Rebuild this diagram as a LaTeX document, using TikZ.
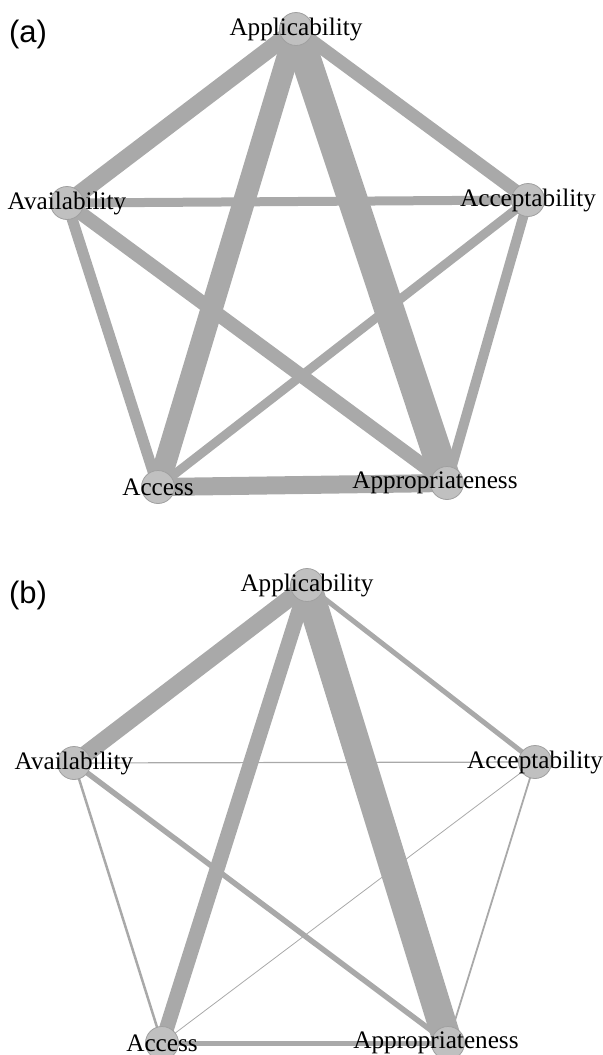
\documentclass[tikz,border=0pt]{standalone}
\usepackage{fontspec}
\setmainfont{Liberation Serif}
\newfontfamily\panelfont{Liberation Sans}
\usepackage{tikz}
\usetikzlibrary{backgrounds}
\definecolor{edgegray}{RGB}{169,169,169}
\definecolor{nodegray}{RGB}{192,192,192}
\definecolor{rimgray}{RGB}{160,160,160}

\begin{document}
\begin{tikzpicture}[x=0.5pt, y=-0.5pt,
    vtx/.style={circle, fill=nodegray, draw=rimgray, line width=0.4pt, minimum size=16.5pt, inner sep=0pt},
    lbl/.style={inner sep=0pt, font=\fontsize{12.6}{15}\selectfont},
    panel/.style={inner sep=0pt, font=\panelfont\fontsize{15.5}{18}\selectfont},
    edge/.style={draw=edgegray, line cap=butt}]
   \useasboundingbox (0,0) rectangle (602,1055);

   % (a)
   \node[panel] (tag-a) at (28,34) {(a)};
   \node[vtx] (appl-a) at (296,29) {};
   \node[vtx] (avail-a) at (67,203) {};
   \node[vtx] (accept-a) at (528,200) {};
   \node[vtx] (access-a) at (158,487) {};
   \node[vtx] (approp-a) at (447,483) {};
   \begin{pgfonlayer}{background}
    \draw[edge, line width=15pt] (appl-a.center) -- (approp-a.center);
    \draw[edge, line width=11pt] (appl-a.center) -- (access-a.center);
    \draw[edge, line width=8.5pt] (appl-a.center) -- (avail-a.center);
    \draw[edge, line width=6.5pt] (appl-a.center) -- (accept-a.center);
    \draw[edge, line width=9pt] (access-a.center) -- (approp-a.center);
    \draw[edge, line width=7pt] (avail-a.center) -- (approp-a.center);
    \draw[edge, line width=5.5pt] (avail-a.center) -- (access-a.center);
    \draw[edge, line width=5pt] (accept-a.center) -- (approp-a.center);
    \draw[edge, line width=4.5pt] (accept-a.center) -- (access-a.center);
    \draw[edge, line width=4.5pt] (avail-a.center) -- (accept-a.center);
   \end{pgfonlayer}
   \node[lbl] (appl-a-t) at (appl-a) {Applicability};
   \node[lbl] (avail-a-t) at (avail-a) {Availability};
   \node[lbl] (accept-a-t) at (accept-a) {Acceptability};
   \node[lbl] (access-a-t) at (access-a) {Access};
   \node[lbl] (approp-a-t) at ([xshift=-6]approp-a) {Appropriateness};

   % (b)
   \node[panel] (tag-b) at (28,595) {(b)};
   \node[vtx] (appl-b) at (307,585) {};
   \node[vtx] (avail-b) at (74,763) {};
   \node[vtx] (accept-b) at (535,762) {};
   \node[vtx] (access-b) at (162,1043) {};
   \node[vtx] (approp-b) at (448,1043) {};
   \begin{pgfonlayer}{background}
    \draw[edge, line width=14.5pt] (appl-b.center) -- (approp-b.center);
    \draw[edge, line width=8.5pt] (appl-b.center) -- (avail-b.center);
    \draw[edge, line width=7.5pt] (appl-b.center) -- (access-b.center);
    \draw[edge, line width=2.5pt] (appl-b.center) -- (accept-b.center);
    \draw[edge, line width=2.75pt] (avail-b.center) -- (approp-b.center);
    \draw[edge, line width=2.5pt] (access-b.center) -- (approp-b.center);
    \draw[edge, line width=1.25pt] (avail-b.center) -- (access-b.center);
    \draw[edge, line width=0.9pt] (accept-b.center) -- (approp-b.center);
    \draw[edge, line width=0.6pt] (avail-b.center) -- (accept-b.center);
    \draw[edge, line width=0.4pt] (accept-b.center) -- (access-b.center);
   \end{pgfonlayer}
   \node[lbl] (appl-b-t) at (appl-b) {Applicability};
   \node[lbl] (avail-b-t) at (avail-b) {Availability};
   \node[lbl] (accept-b-t) at (accept-b) {Acceptability};
   \node[lbl] (access-b-t) at (access-b) {Access};
   \node[lbl] (approp-b-t) at ([xshift=-6]approp-b) {Appropriateness};
\end{tikzpicture}
\end{document}
